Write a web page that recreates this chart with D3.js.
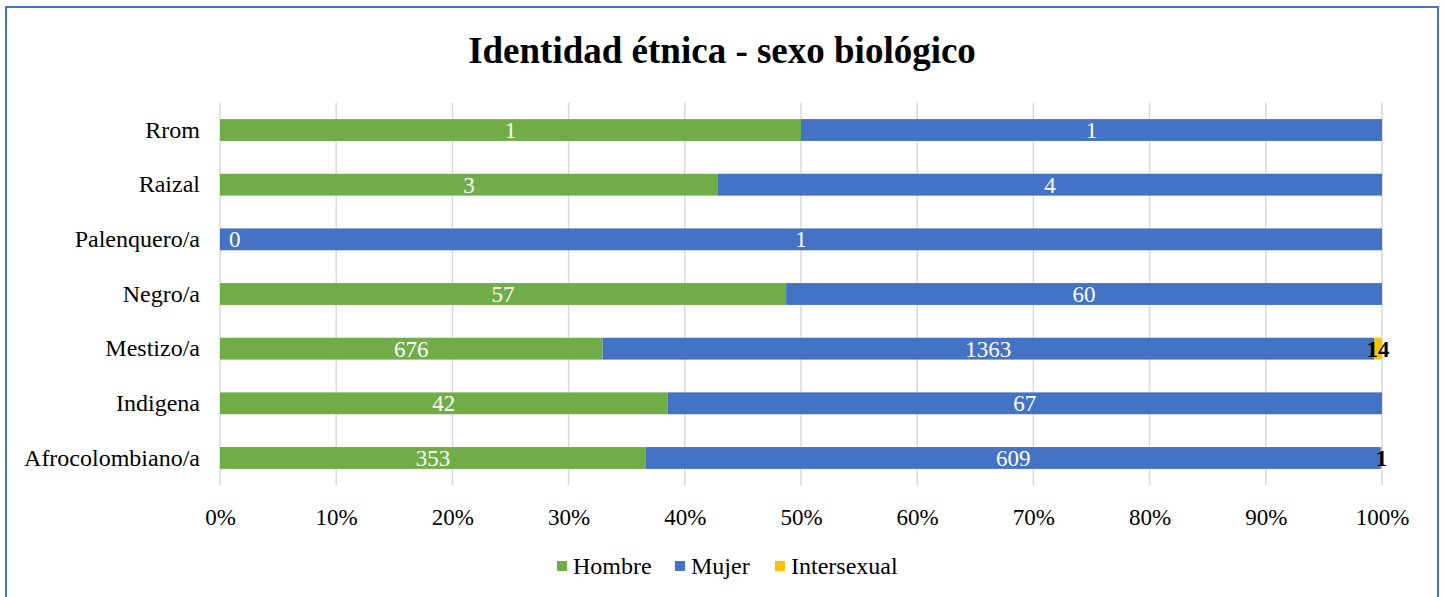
<!DOCTYPE html>
<html>
<head>
<meta charset="utf-8">
<script src="https://cdn.jsdelivr.net/npm/d3@7"></script>
<style>
  body { margin: 0; background: #fff; }
  text { font-family: "Liberation Serif", "Times New Roman", serif; }
</style>
</head>
<body>
<div id="chart"></div>
<script>
// data, in the order of the source table (bottom row first)
const categories = ["Afrocolombiano/a", "Indigena", "Mestizo/a", "Negro/a", "Palenquero/a", "Raizal", "Rrom"];
const hombre = [353, 42, 676, 57, 0, 3, 1];
const mujer = [609, 67, 1363, 60, 1, 4, 1];
const intersexual = [1, 0, 14, 0, 0, 0, 0];
const seriesNames = ["Hombre", "Mujer", "Intersexual"];
const tickLabels = [0, 10, 20, 30, 40, 50, 60, 70, 80, 90, 100];

const W = 1444, H = 597;
const colors = {Hombre: "#70ad47", Mujer: "#4472c4", Intersexual: "#ffc000"};
const plot = {left: 220, right: 1382, top: 102.7, bottom: 485.3};

let svg = d3.select("#chart")
  .append("svg")
    .attr("width", W)
    .attr("height", H);

// outer frame
svg.append("rect")
  .attr("x", 6).attr("y", 7)
  .attr("width", 1432).attr("height", 600)
  .attr("fill", "#fff")
  .attr("stroke", "#4472c4")
  .attr("stroke-width", 2);

svg.append("text")
  .text("Identidad étnica - sexo biológico")
  .attr("x", 722).attr("y", 63)
  .attr("text-anchor", "middle")
  .attr("font-size", "37px")
  .attr("font-weight", "bold");

// build rows of percentage segments
let rows = categories.map(function(c, i) {
  let vals = [hombre[i], mujer[i], intersexual[i]];
  let total = d3.sum(vals);
  let acc = 0;
  let segs = vals.map(function(v, k) {
    let s = {cat: c, name: seriesNames[k], value: v, x0: acc / total, x1: (acc + v) / total};
    acc += v;
    return s;
  });
  return {cat: c, segs: segs};
});

let x = d3.scaleLinear()
  .domain([0, 1])
  .range([plot.left, plot.right]);

let y = d3.scaleBand()
  .domain(categories.slice().reverse())
  .range([plot.top, plot.bottom])
  .paddingInner(0.6)
  .paddingOuter(0.3);

// gridlines
svg.append("g")
  .selectAll("line")
  .data(tickLabels)
  .enter()
  .append("line")
    .attr("x1", function(d) { return x(d / 100); })
    .attr("x2", function(d) { return x(d / 100); })
    .attr("y1", plot.top)
    .attr("y2", plot.bottom)
    .attr("stroke", "#d9d9d9")
    .attr("stroke-width", 1.5);

// x axis labels
let xAxis = d3.axisBottom(x)
  .tickValues(tickLabels.map(function(d) { return d / 100; }))
  .tickFormat(function(d) { return Math.round(d * 100) + "%"; })
  .tickSize(0)
  .tickPadding(0);

let gx = svg.append("g")
  .attr("transform", "translate(0," + (plot.bottom + 40) + ")")
  .call(xAxis);
gx.select(".domain").remove();
gx.selectAll("text")
  .attr("font-size", "23px")
  .attr("font-family", "Liberation Serif, serif")
  .attr("fill", "#000")
  .attr("dy", 0);

// y axis labels
let yAxis = d3.axisLeft(y).tickSize(0).tickPadding(20);
let gy = svg.append("g")
  .attr("transform", "translate(" + plot.left + ",0)")
  .call(yAxis);
gy.select(".domain").remove();
gy.selectAll("text")
  .attr("font-size", "24px")
  .attr("font-family", "Liberation Serif, serif")
  .attr("fill", "#000")
  .attr("dy", "0.32em");

// bars
let rowG = svg.append("g")
  .selectAll("g")
  .data(rows)
  .enter()
  .append("g")
    .attr("transform", function(d) { return "translate(0," + y(d.cat) + ")"; });

rowG.selectAll("rect")
  .data(function(d) { return d.segs; })
  .enter()
  .append("rect")
    .attr("x", function(d) { return x(d.x0); })
    .attr("width", function(d) { return x(d.x1) - x(d.x0); })
    .attr("y", 0)
    .attr("height", y.bandwidth())
    .attr("fill", function(d) { return colors[d.name]; });

// data labels
rowG.selectAll("text")
  .data(function(d) {
    return d.segs.filter(function(s) { return s.name != "Intersexual" || s.value > 0; });
  })
  .enter()
  .append("text")
    .text(function(d) { return d.value; })
    .attr("x", function(d) {
      if (d.x1 == d.x0) return x(d.x0) + 9;
      return (x(d.x0) + x(d.x1)) / 2;
    })
    .attr("y", y.bandwidth() / 2)
    .attr("dy", "0.35em")
    .attr("text-anchor", function(d) { return d.x1 == d.x0 ? "start" : "middle"; })
    .attr("font-size", "23px")
    .attr("font-weight", function(d) { return d.name == "Intersexual" ? "bold" : "normal"; })
    .attr("fill", function(d) { return d.name == "Intersexual" ? "#000" : "#fff"; });

// legend
let legendX = [557, 675, 775];
let legend = svg.append("g")
  .selectAll("g")
  .data(seriesNames)
  .enter()
  .append("g")
    .attr("transform", function(d, i) { return "translate(" + legendX[i] + ",566)"; });
legend.append("rect")
  .attr("x", 0).attr("y", -5)
  .attr("width", 10).attr("height", 10)
  .attr("fill", function(d) { return colors[d]; });
legend.append("text")
  .text(function(d) { return d; })
  .attr("x", 16)
  .attr("dy", "0.33em")
  .attr("font-size", "24px");
</script>
</body>
</html>
